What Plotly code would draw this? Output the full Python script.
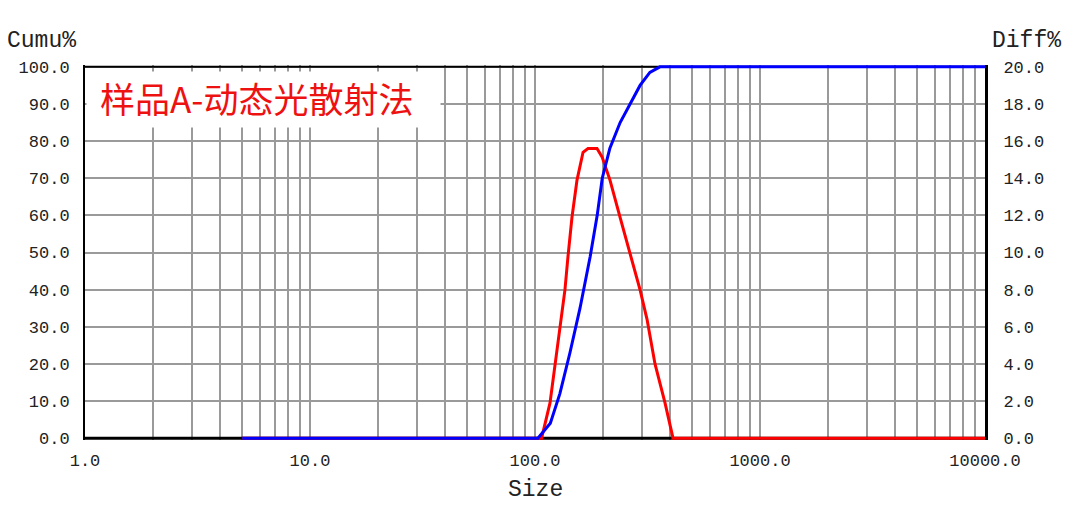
import plotly.graph_objects as go

# ---- data ----
cumu_size = [5, 103, 117, 129, 143, 158.5, 176, 189, 199, 215, 239, 264, 293, 324, 359, 10000]
cumu_pct = [0, 0, 4, 12, 23, 35, 49, 60, 70, 78, 85, 90, 95, 98.5, 100, 100]

diff_size = [5, 107, 116.6, 122.7, 129.2, 135.9, 140.2, 146, 153.7, 163.5, 172, 188.6,
             198.6, 215.4, 238.7, 264.4, 292.9, 314.7, 341.5, 378.3, 410.6, 10000]
diff_pct = [0, 0, 1.9, 4.0, 6.0, 8.0, 9.8, 11.9, 13.9, 15.4, 15.6, 15.6,
            15.15, 13.9, 11.9, 10.0, 8.0, 6.4, 4.0, 1.9, 0, 0]

x_major = [1, 10, 100, 1000, 10000]
x_major_text = ["1.0", "10.0", "100.0", "1000.0", "10000.0"]
title_text = "样品A-动态光散射法"

# axis limits
X_MIN, X_MAX = 1, 10000
CUMU_MIN, CUMU_MAX = 0, 100   # left axis
DIFF_MIN, DIFF_MAX = 0, 20    # right axis

# ---- ticks (grid at every log minor position) ----
x_tickvals = []
x_ticktext = []
for d in [1, 10, 100, 1000]:
    for m in range(1, 10):
        v = m * d
        x_tickvals.append(v)
        x_ticktext.append(x_major_text[x_major.index(v)] if v in x_major else "")
x_tickvals.append(10000)
x_ticktext.append("10000.0")

tick_font = dict(family="Liberation Mono", size=17, color="#222222")
grid_col = "#9a9a9a"

fig = go.Figure()
# frame top / bottom (drawn under the curves, over the grid) on the Diff axis
fig.add_trace(go.Scatter(x=[X_MIN, X_MAX], y=[DIFF_MIN, DIFF_MIN], mode="lines", yaxis="y",
                         line=dict(color="black", width=3), hoverinfo="skip", showlegend=False))
fig.add_trace(go.Scatter(x=[X_MIN, X_MAX], y=[DIFF_MAX, DIFF_MAX], mode="lines", yaxis="y",
                         line=dict(color="black", width=2), hoverinfo="skip", showlegend=False))
# Diff% (red) on the right axis (primary subplot, drawn first)
fig.add_trace(go.Scatter(x=diff_size, y=diff_pct, mode="lines", yaxis="y",
                         line=dict(color="#ff0000", width=3), showlegend=False))
# Cumu% (blue) on the left axis (overlay subplot, drawn on top)
fig.add_trace(go.Scatter(x=cumu_size, y=cumu_pct, mode="lines", yaxis="y2",
                         line=dict(color="#0000ff", width=3), showlegend=False))

pad_c = 0.5
pad_d = pad_c * (DIFF_MAX - DIFF_MIN) / (CUMU_MAX - CUMU_MIN)

fig.update_layout(
    width=1072, height=499,
    margin=dict(l=77, r=95, t=57, b=67),
    paper_bgcolor="white", plot_bgcolor="white",
    showlegend=False,
    xaxis=dict(type="log", range=[0, 4], tickvals=x_tickvals, ticktext=x_ticktext,
               showgrid=True, gridcolor=grid_col, gridwidth=1.5,
               showline=False, zeroline=False, ticks="",
               tickfont=tick_font, ticklabelstandoff=8),
    yaxis=dict(range=[DIFF_MIN - pad_d, DIFF_MAX + pad_d], tickvals=list(range(0, 21, 2)),
               tickformat=".1f", side="right",
               showgrid=True, gridcolor=grid_col, gridwidth=1.5,
               showline=True, linecolor="black", linewidth=3,
               zeroline=False, ticks="", tickfont=tick_font, ticklabelstandoff=12),
    yaxis2=dict(range=[CUMU_MIN - pad_c, CUMU_MAX + pad_c], tickvals=list(range(0, 101, 10)),
                tickformat=".1f", overlaying="y", side="left", showgrid=False,
                showline=True, linecolor="black", linewidth=2,
                zeroline=False, ticks="", tickfont=tick_font, ticklabelstandoff=10),
)

# white label box + label text
fig.add_annotation(text=" ", xref="paper", yref="paper", x=0.0015, y=0.984,
                   xanchor="left", yanchor="top", showarrow=False,
                   width=351, height=53, borderpad=1, bgcolor="white",
                   font=dict(size=10))
fig.add_annotation(text=title_text, xref="paper", yref="paper", x=0.191, y=0.912,
                   xanchor="center", yanchor="middle", showarrow=False,
                   font=dict(family="Noto Sans CJK SC", size=35, color="#ee1111"))

axis_title_font = dict(family="Liberation Mono", size=23, color="#222222")
fig.add_annotation(text="Cumu%", xref="paper", yref="paper", x=-0.0478, y=1.064,
                   xanchor="center", yanchor="middle", showarrow=False, font=axis_title_font)
fig.add_annotation(text="Diff%", xref="paper", yref="paper", x=1.0456, y=1.064,
                   xanchor="center", yanchor="middle", showarrow=False, font=axis_title_font)
fig.add_annotation(text="Size", xref="paper", yref="paper", x=0.5, y=-0.1333,
                   xanchor="center", yanchor="middle", showarrow=False, font=axis_title_font)

fig.write_html("out.html")
